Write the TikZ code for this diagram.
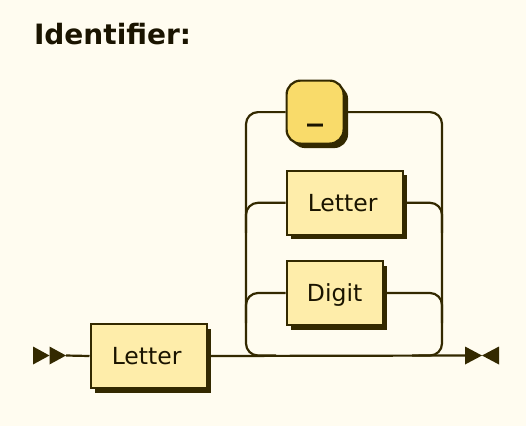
\documentclass[tikz,border=0pt]{standalone}
\usepackage{fontspec}
\setmainfont{DejaVu Sans}
\usetikzlibrary{positioning,shadows}

\definecolor{rrback}{HTML}{FFFCF0}
\definecolor{rrline}{HTML}{332900}
\definecolor{rrtext}{HTML}{1A1400}
\definecolor{rrbox}{HTML}{FEEDAA}
\definecolor{rrterm}{HTML}{F9DB6A}

\tikzset{
  rail/.style={draw=rrline, line width=2.2pt},
  nonterm/.style={draw=rrline, line width=2.2pt, fill=rrbox, text=rrtext,
    minimum height=64pt, text height=17pt, text depth=0pt, inner sep=0pt,
    font=\fontsize{23.5}{28}\selectfont,
    general shadow={fill=rrline, shadow xshift=4.5pt, shadow yshift=-4.5pt}},
  term/.style={nonterm, fill=rrterm, rounded corners=14pt},
}

\begin{document}
\begin{tikzpicture}[x=1pt, y=-1pt]
  % Background
  \fill[rrback] (0,0) rectangle (526,426);
  \useasboundingbox (0,0) rectangle (526,426);

  % Nodes
  \node (title) [anchor=base west, text=rrtext, font=\bfseries\fontsize{28}{33}\selectfont] at (30.5,44) {Identifier:};
  \node (letterA) [nonterm, minimum width=116pt, anchor=west] at (89.5,356) {Letter\kern4pt};
  \node (under) [term, minimum width=57pt, minimum height=63pt, text height=14pt,
    font=\bfseries\fontsize{32}{36}\selectfont, anchor=north west] at (285.5,79.5) {\_};
  \node (letterB) [nonterm, minimum width=116pt, below right=25pt and 0pt of under.south west] {Letter\kern4pt};
  \node (digit) [nonterm, minimum width=96pt, below right=24pt and 0pt of letterB.south west] {Digit};

  % Rails
  \coordinate (start) at (66,355.5);
  \coordinate (end) at (465,355.5);
  \coordinate (loopL) at (246,355.5);
  \coordinate (loopR) at (442,355.5);

  \draw[rail] (start) -- (letterA.west);
  \draw[rail] (letterA.east) -- (end);
  \draw[rail, rounded corners=12pt] (under.west) -- (under.west -| loopL) -- (loopL) -- ++(30,0);
  \draw[rail, rounded corners=12pt] (under.east) -- (under.east -| loopR) -- (loopR) -- ++(-30,0);
  \draw[rail, rounded corners=12pt] (letterB.west) -- (letterB.west -| loopL) -- ++(0,30);
  \draw[rail, rounded corners=12pt] (letterB.east) -- (letterB.east -| loopR) -- ++(0,30);
  \draw[rail, rounded corners=12pt] (digit.west) -- (digit.west -| loopL) -- ++(0,30);
  \draw[rail, rounded corners=12pt] (digit.east) -- (digit.east -| loopR) -- ++(0,30);

  % Markers
  \fill[rrline] (33,346.5) -- (49.5,355.5) -- (33,364.5) -- cycle;
  \fill[rrline] (49.5,346.5) -- (start) -- (49.5,364.5) -- cycle;
  \fill[rrline] (465,346.5) -- (482,355.5) -- (465,364.5) -- cycle;
  \fill[rrline] (499,346.5) -- (482,355.5) -- (499,364.5) -- cycle;
\end{tikzpicture}
\end{document}
